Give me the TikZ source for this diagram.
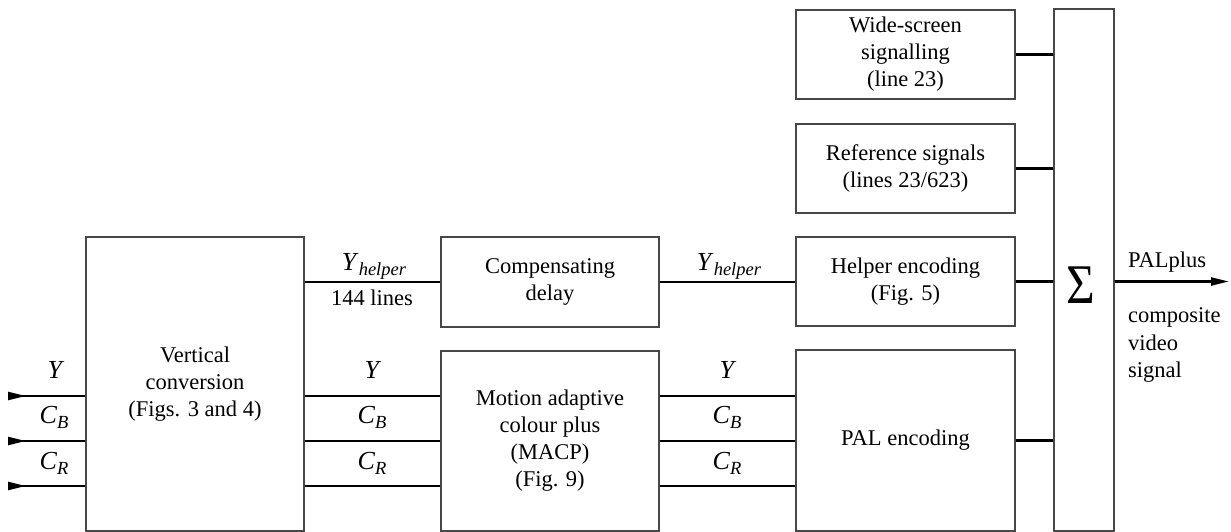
\documentclass[tikz,border=0pt]{standalone}
\usepackage{fontspec}
\setmainfont{Liberation Serif}
\usetikzlibrary{arrows.meta}
\newcommand\mybody{\fontsize{22.5}{27}\selectfont}
\newcommand\mylbl{\fontsize{26}{30}\selectfont}
\newcommand\mysub[1]{\raisebox{-0.22em}{\fontsize{18.5}{18.5}\selectfont\itshape #1}}
\begin{document}
\begin{tikzpicture}[x=1pt,y=-1pt,
  blk/.style={draw=black!72, line width=1.4pt, inner sep=0pt, align=center, font=\mybody},
  wire/.style={line width=2.4pt},
  inarrow/.style={wire, {Triangle[reversed,length=18pt,width=8pt]}-},
  outarrow/.style={wire, -{Triangle[length=18pt,width=8pt]}},
  lbl/.style={anchor=base, inner sep=0pt, font=\mylbl},
  txt/.style={anchor=base west, inner sep=0pt, font=\mybody}]
\useasboundingbox (0,0) rectangle (1231,532);

% blocks
\node[blk, minimum width=218pt, minimum height=294pt] (vc) at (195,384)
  {\raisebox{-4pt}{\begin{tabular}{@{}c@{}}Vertical\\conversion\\(Figs. 3 and 4)\end{tabular}}};
\node[blk, minimum width=218pt, minimum height=90pt] (comp) at (550,282) {Compensating\\delay};
\node[blk, minimum width=218pt, minimum height=180pt] (macp) at (550,441)
  {Motion adaptive\\colour plus\\(MACP)\\(Fig. 9)};
\node[blk, minimum width=219pt, minimum height=89pt] (wss) at (905.5,54.5)
  {Wide-screen\\signalling\\(line 23)};
\node[blk, minimum width=219pt, minimum height=89pt] (ref) at (905.5,168.5)
  {Reference signals\\(lines 23/623)};
\node[blk, minimum width=219pt, minimum height=89pt] (help) at (905.5,281.5)
  {Helper encoding\\(Fig. 5)};
\node[blk, minimum width=219pt, minimum height=181pt] (pal) at (905.5,440.5) {PAL encoding};
\node[blk, minimum width=60pt, minimum height=522pt] (sig) at (1084,270) {};
\node[inner sep=0pt] (sigma) at (1081,285)
  {\scalebox{0.88}[1]{\fontsize{56}{56}\selectfont Σ}};

% reference levels
\coordinate (hy) at (0,282);
\coordinate (ly) at (0,396);
\coordinate (by) at (0,441);
\coordinate (ry) at (0,486);
\coordinate (iY) at (8,396);
\coordinate (iB) at (8,441);
\coordinate (iR) at (8,486);
\coordinate (out) at (1229,281.5);

% inputs
\draw[inarrow] (iY) -- (vc.west |- iY);
\draw[inarrow] (iB) -- (vc.west |- iB);
\draw[inarrow] (iR) -- (vc.west |- iR);

% helper path
\draw[wire] (vc.east |- hy) -- (comp.west |- hy);
\draw[wire] (comp.east |- hy) -- (help.west |- hy);

% channels
\draw[wire] (vc.east |- ly) -- (macp.west |- ly);
\draw[wire] (vc.east |- by) -- (macp.west |- by);
\draw[wire] (vc.east |- ry) -- (macp.west |- ry);
\draw[wire] (macp.east |- ly) -- (pal.west |- ly);
\draw[wire] (macp.east |- by) -- (pal.west |- by);
\draw[wire] (macp.east |- ry) -- (pal.west |- ry);

% into the sum
\draw[wire] (wss.east) -- (sig.west |- wss.east);
\draw[wire] (ref.east) -- (sig.west |- ref.east);
\draw[wire] (help.east) -- (sig.west |- help.east);
\draw[wire] (pal.east) -- (sig.west |- pal.east);

% output
\draw[outarrow] (sig.east |- out) -- (out);

% labels
\node[lbl] (lY1) at (56,378) {\textit{Y}};
\node[lbl] (lB1) at (54,423) {\textit{C}\mysub{B}};
\node[lbl] (lR1) at (54,469) {\textit{C}\mysub{R}};

\node[lbl] (lH1) at (374,270) {\textit{Y}\mysub{helper}};
\node[txt, anchor=base] (l144) at (372,305) {144 lines};
\node[lbl] (lY2) at (373,378) {\textit{Y}};
\node[lbl] (lB2) at (372,423) {\textit{C}\mysub{B}};
\node[lbl] (lR2) at (372,469) {\textit{C}\mysub{R}};

\node[lbl] (lH2) at (729,270) {\textit{Y}\mysub{helper}};
\node[lbl] (lY3) at (728,378) {\textit{Y}};
\node[lbl] (lB3) at (727,423) {\textit{C}\mysub{B}};
\node[lbl] (lR3) at (727,469) {\textit{C}\mysub{R}};

\node[txt] (pp) at (1128,267) {PALplus};
\node[txt] (c1) at (1128,322) {composite};
\node[txt] (c2) at (1128,350) {video};
\node[txt] (c3) at (1128,377) {signal};
\end{tikzpicture}
\end{document}
